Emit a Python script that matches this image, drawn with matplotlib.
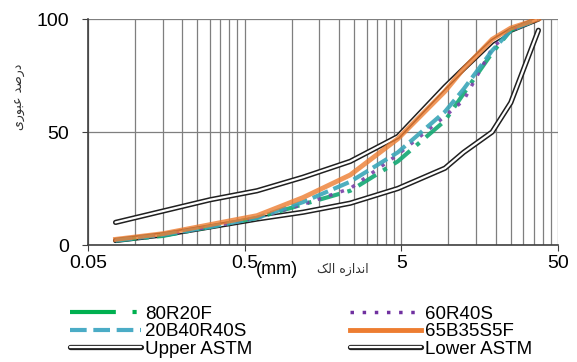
import matplotlib
matplotlib.use("Agg")
import matplotlib.pyplot as plt
from matplotlib.lines import Line2D
from matplotlib.ticker import FixedLocator, NullFormatter

# اندازه الک (mm)
sieves = [0.075, 0.15, 0.3, 0.6, 1.18, 2.36, 4.75, 9.5, 12.5, 19, 25, 37.5]

upper_astm = [10, 15, 20, 24, 30, 37, 48, 70, 78, 90, 95, 100]
lower_astm = [2, 4.5, 8, 11.5, 14.5, 18.5, 25, 34, 41, 50, 63, 95]

mix_80R20F = [2, 4, 8, 12, 18, 24, 37, 55, 67, 85, 95, 100]
mix_60R40S = [2, 4.5, 8, 12, 18, 25, 40, 57, 64, 87, 95, 100]
mix_20B40R40S = [2, 4.5, 8, 12, 19, 28, 41, 59, 69, 86, 95, 100]
mix_65B35S5F = [2.5, 5, 9, 13, 21, 31, 47, 68, 78, 91, 96, 100]

x_ticks = [0.05, 0.5, 5, 50]
y_ticks = [0, 50, 100]

# متن فارسی به صورت اشکال نمایشی (ترتیب بصری)
ylabel_fa = "\uFEEF\uFEAD\uFEEE\uFE92\uFECB \uFEAA\uFEBB\uFEAD\uFEA9"   # درصد عبوری
xlabel_fa = "\uFB8F\uFEDF\uFE8D \uFEE9\uFEAF\uFE8D\uFEAA\uFEE7\uFE8D"   # اندازه الک

plt.rcParams["font.family"] = ["Liberation Sans", "DejaVu Sans"]

fig = plt.figure(figsize=(5.77, 3.62), dpi=100)
ax = fig.add_axes([0.1525, 0.3232, 0.8145, 0.6243])

ax.set_xscale("log")
ax.set_xlim(0.05, 50)
ax.set_ylim(0, 100)

# خطوط شبکه
minor = [0.05 * k * 10 ** n for n in range(3) for k in range(2, 10)]
ax.xaxis.set_major_locator(FixedLocator(x_ticks))
ax.xaxis.set_minor_locator(FixedLocator(minor))
ax.xaxis.set_minor_formatter(NullFormatter())
ax.set_xticks(x_ticks)
ax.set_xticklabels(["0.05", "0.5", "5", "50"])
ax.set_yticks(y_ticks)
ax.grid(which="major", color="#7f7f7f", lw=0.9)
ax.grid(which="minor", axis="x", color="#7f7f7f", lw=0.9)
ax.set_axisbelow(True)

for s in ["top", "right"]:
    ax.spines[s].set_visible(False)
for s in ["left", "bottom"]:
    ax.spines[s].set_color("#404040")
    ax.spines[s].set_linewidth(1.2)
ax.tick_params(axis="both", which="major", labelsize=14, length=4.5, color="#404040")
ax.tick_params(axis="x", which="major", pad=3)
ax.tick_params(axis="y", which="major", pad=9)
ax.tick_params(axis="x", which="minor", length=0)

# حدود ASTM (خط دوتایی)
def astm_line(y):
    ax.plot(sieves, y, color="#202020", lw=3.8, solid_capstyle="round", zorder=3)
    ax.plot(sieves, y, color="white", lw=1.6, solid_capstyle="round", zorder=3)

astm_line(upper_astm)
astm_line(lower_astm)

ax.plot(sieves, mix_80R20F, color="#13a873", lw=3, dashes=(5, 2, 1, 2), alpha=0.9, zorder=4)
ax.plot(sieves, mix_60R40S, color="#7a3fa8", lw=2.5, ls=(0, (1, 2.5)), alpha=0.9, zorder=4)
ax.plot(sieves, mix_20B40R40S, color="#3aa6b8", lw=3, dashes=(4, 1.4), alpha=0.9, zorder=4)
ax.plot(sieves, mix_65B35S5F, color="#ed7d31", lw=3.5, alpha=0.8, zorder=4)

# برچسب محورها
fig.text(20 / 577, 1 - 97 / 362, ylabel_fa, rotation=90, ha="center", va="center",
         fontsize=9, family="DejaVu Sans", color="#333333")
fig.text(256 / 577, 1 - 269 / 362, "(mm)", ha="left", va="center", fontsize=13)
fig.text(343 / 577, 1 - 269 / 362, xlabel_fa, ha="center", va="center",
         fontsize=9, family="DejaVu Sans", color="#333333")

# راهنما
def pair():
    return (Line2D([], [], color="#202020", lw=3.8, solid_capstyle="round"),
            Line2D([], [], color="white", lw=1.6, solid_capstyle="round"))

h_80 = Line2D([], [], color="#00b050", lw=3, dashes=(11, 4, 1, 4))
h_60 = Line2D([], [], color="#7030a0", lw=2.5, ls=(0, (1, 2.5)))
h_20 = Line2D([], [], color="#4bacc6", lw=3, dashes=(4, 1.6))
h_65 = Line2D([], [], color="#ed7d31", lw=3.5)

handles = [h_80, h_20, pair(), h_60, h_65, pair()]
labels = ["80R20F", "20B40R40S", "Upper ASTM", "60R40S", "65B35S5F", "Lower ASTM"]
fig.legend(handles, labels, ncol=2, loc="upper left", bbox_to_anchor=(0.105, 0.182),
           frameon=False, fontsize=13.5, handlelength=3.8, handletextpad=0.2,
           labelspacing=0.02, columnspacing=5.2, borderpad=0)

fig.savefig("out.png", dpi=100)
